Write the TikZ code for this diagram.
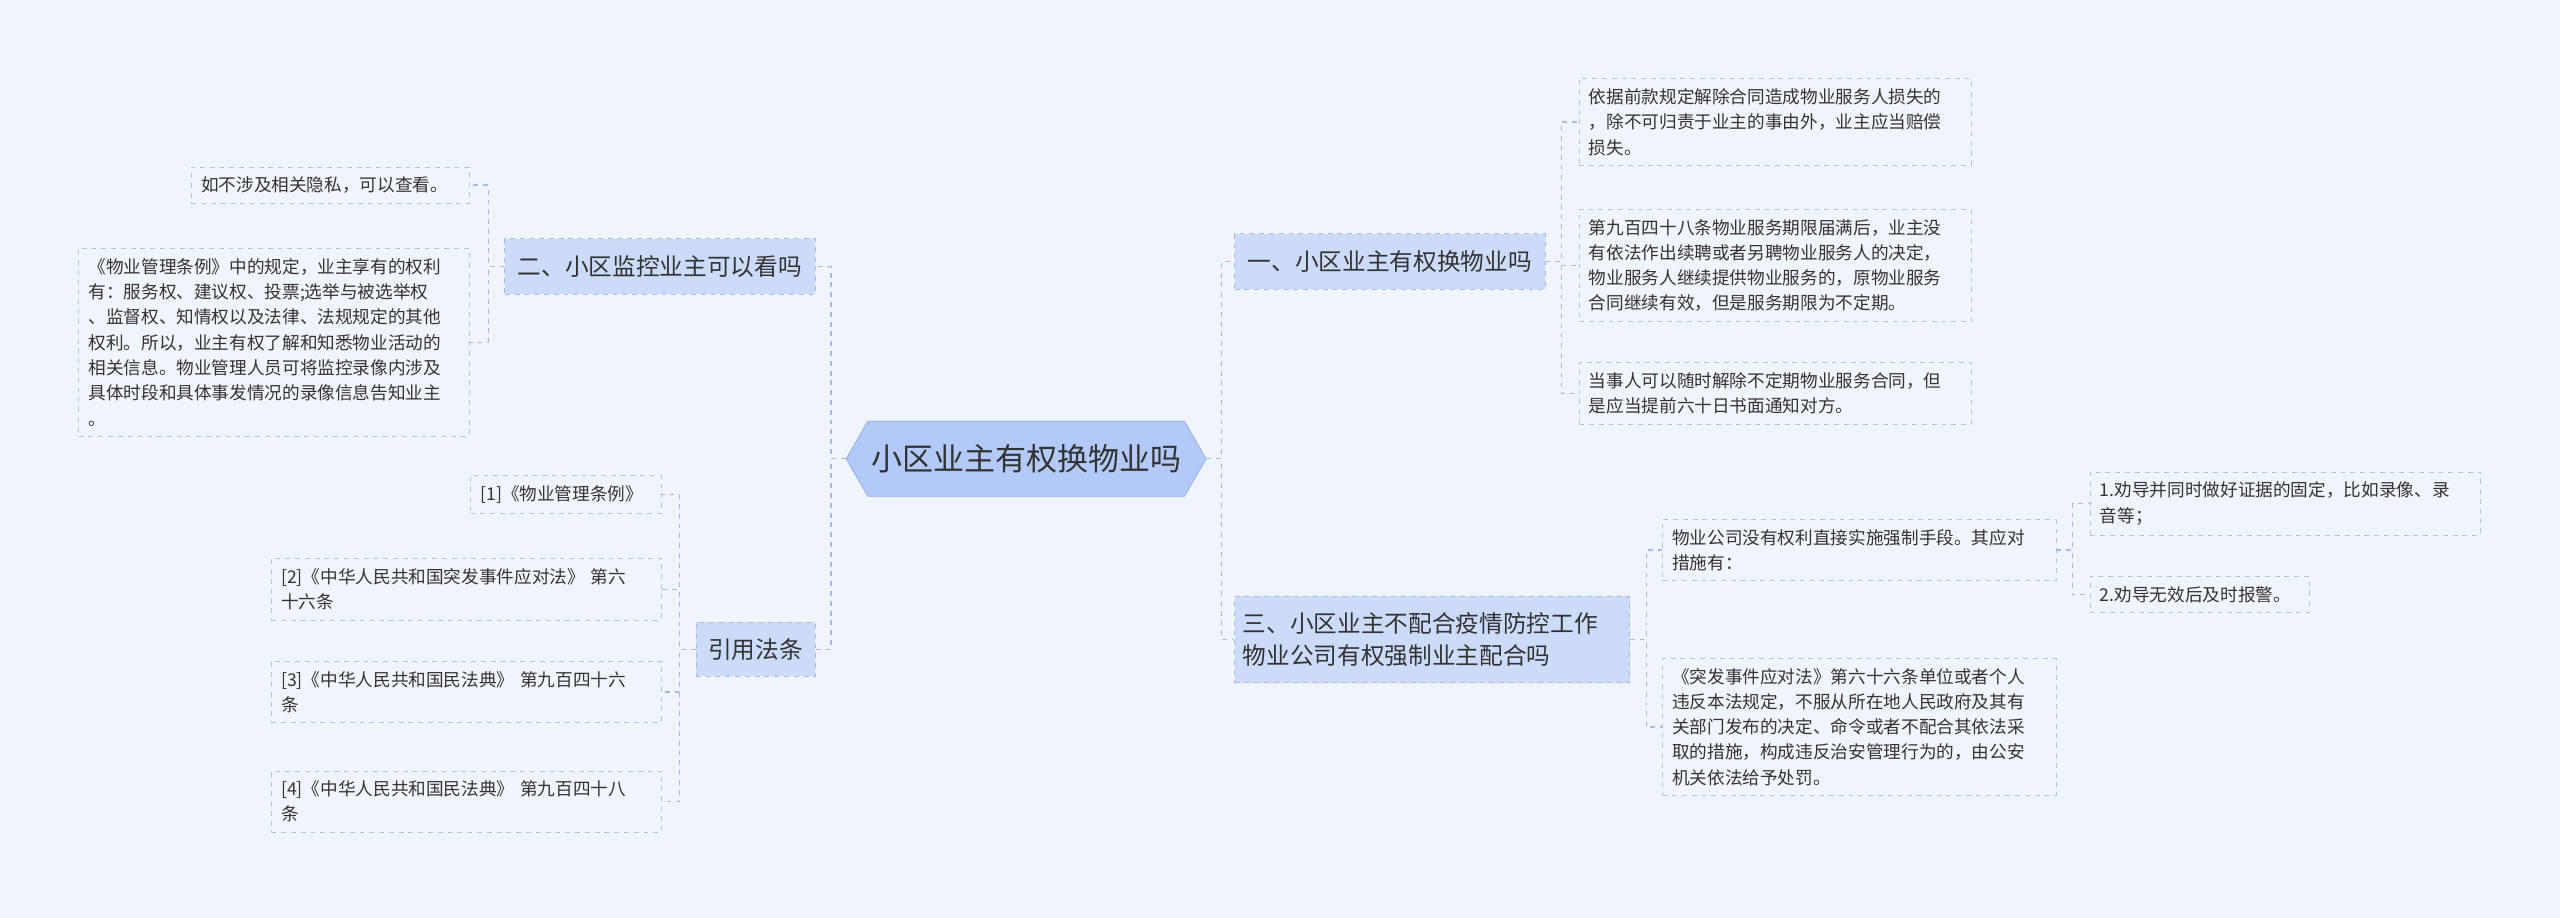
\documentclass[tikz,border=0pt]{standalone}
\usepackage{fontspec}
\newfontfamily\cjk{Noto Sans CJK SC}
\usetikzlibrary{shapes.symbols}
\definecolor{bg}{HTML}{F0F4FC}
\definecolor{rootfill}{HTML}{B3C9F7}
\definecolor{rootline}{HTML}{8FAEEF}
\definecolor{subfill}{HTML}{CCDBFA}
\definecolor{linkc}{HTML}{A6BDEB}
\definecolor{leafline}{HTML}{B6C2DA}
\definecolor{txt}{HTML}{333333}
\tikzset{
  leaf/.style={draw=leafline, dashed, fill=bg, text=txt, font=\cjk\fontsize{10.8}{15.5}\selectfont,
               align=left, inner xsep=6pt, inner ysep=6pt, anchor=north west},
  sub/.style={draw=linkc, dashed, fill=subfill, text=txt, font=\cjk\fontsize{14.5}{19}\selectfont,
              align=left, inner sep=5pt, anchor=north west},
  link/.style={draw=linkc, dashed, line width=0.8pt}
}
\begin{document}
\begin{tikzpicture}[x=1pt,y=-1pt]
\useasboundingbox[fill=bg] (0,0) rectangle (1568,562);
% root
\node[signal, signal to=west and east, signal pointer angle=120, fill=rootfill, draw=rootline,
      text=txt, font=\cjk\fontsize{19}{22}\selectfont, minimum width=217pt, minimum height=46pt,
      inner sep=2pt] (root) at (628.5,281) {小区业主有权换物业吗};
% right side
\node[sub, minimum width=190pt, minimum height=34pt] (b1) at (756,143) {一、小区业主有权换物业吗};
\node[sub, text width=232pt, minimum height=53pt] (b3) at (756,365) {三、小区业主不配合疫情防控工作\\物业公司有权强制业主配合吗};
\node[leaf, text width=228pt] (l1) at (967,48) {依据前款规定解除合同造成物业服务人损失的\\，除不可归责于业主的事由外，业主应当赔偿\\损失。};
\node[leaf, text width=228pt] (l2) at (967,128) {第九百四十八条物业服务期限届满后，业主没\\有依法作出续聘或者另聘物业服务人的决定，\\物业服务人继续提供物业服务的，原物业服务\\合同继续有效，但是服务期限为不定期。};
\node[leaf, text width=228pt] (l3) at (967,222) {当事人可以随时解除不定期物业服务合同，但\\是应当提前六十日书面通知对方。};
\node[leaf, text width=229pt] (c1) at (1018,318) {物业公司没有权利直接实施强制手段。其应对\\措施有：};
\node[leaf, text width=229pt] (c2) at (1018,403) {《突发事件应对法》第六十六条单位或者个人\\违反本法规定，不服从所在地人民政府及其有\\关部门发布的决定、命令或者不配合其依法采\\取的措施，构成违反治安管理行为的，由公安\\机关依法给予处罚。};
\node[leaf, text width=227pt] (d1) at (1280,289) {1.劝导并同时做好证据的固定，比如录像、录\\音等；};
\node[leaf, text width=122pt] (d2) at (1280,353) {2.劝导无效后及时报警。};
% left side
\node[sub, minimum width=190pt, minimum height=34pt] (b2) at (309,146) {二、小区监控业主可以看吗};
\node[sub, minimum width=73pt, minimum height=33pt] (b4) at (426,381) {引用法条};
\node[leaf, text width=158pt] (e1) at (117,102) {如不涉及相关隐私，可以查看。};
\node[leaf, text width=227pt] (e2) at (48,152) {《物业管理条例》中的规定，业主享有的权利\\有：服务权、建议权、投票;选举与被选举权\\、监督权、知情权以及法律、法规规定的其他\\权利。所以，业主有权了解和知悉物业活动的\\相关信息。物业管理人员可将监控录像内涉及\\具体时段和具体事发情况的录像信息告知业主\\。};
\node[leaf, text width=105pt] (f1) at (288,291) {[1]《物业管理条例》};
\node[leaf, text width=227pt] (f2) at (166,342) {[2]《中华人民共和国突发事件应对法》 第六\\十六条};
\node[leaf, text width=227pt] (f3) at (166,405) {[3]《中华人民共和国民法典》 第九百四十六\\条};
\node[leaf, text width=227pt] (f4) at (166,472) {[4]《中华人民共和国民法典》 第九百四十八\\条};
% connectors
\foreach \c in {b1,b3} \draw[link] (root.east) -- ++(9,0) |- (\c.west);
\foreach \c in {b2,b4} \draw[link] (root.west) -- ++(-9,0) |- (\c.east);
\foreach \c in {l1,l2,l3} \draw[link] (b1.east) -- ++(10,0) |- (\c.west);
\foreach \c in {c1,c2} \draw[link] (b3.east) -- ++(10,0) |- (\c.west);
\foreach \c in {d1,d2} \draw[link] (c1.east) -- ++(10,0) |- (\c.west);
\foreach \c in {e1,e2} \draw[link] (b2.west) -- ++(-10,0) |- (\c.east);
\foreach \c in {f1,f2,f3,f4} \draw[link] (b4.west) -- ++(-10,0) |- (\c.east);
\end{tikzpicture}
\end{document}
